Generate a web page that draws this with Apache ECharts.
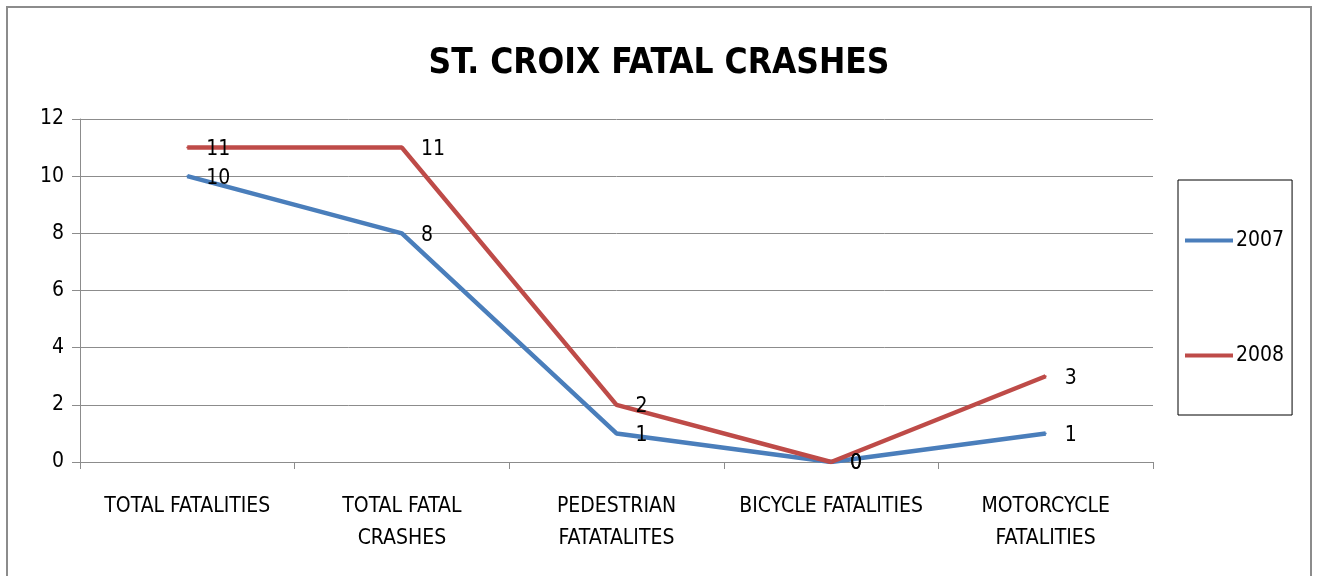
<!DOCTYPE html>
<html>
<head>
<meta charset="utf-8">
<script src="https://cdn.jsdelivr.net/npm/echarts@6/dist/echarts.min.js"></script>
<style>
  html, body { margin: 0; padding: 0; background: #fff; }
  #chart { width: 1318px; height: 576px; }
</style>
</head>
<body>
<div id="chart"></div>
<script>
    "use strict";

    var categorias = ['TOTAL FATALITIES', 'TOTAL FATAL\nCRASHES', 'PEDESTRIAN\nFATATALITES', 'BICYCLE FATALITIES', 'MOTORCYCLE\nFATALITIES'];
    var datos2007 = [10, 8, 1, 0, 1];
    var datos2008 = [11, 11, 2, 0, 3];
    var anios = ['2007', '2008'];

    var fuente = '"DejaVu Sans Condensed", sans-serif';

    var chart = echarts.init(document.getElementById('chart'));
    var etiqueta = { show: true, position: 'right', distance: 18, offset: [0, 2], fontFamily: fuente, fontSize: 21, color: '#000' };
    chart.setOption({
        animation: false,
        color: ['#4a7ebb', '#be4b48'],
        title: {
            text: 'ST. CROIX FATAL CRASHES',
            left: 'center',
            top: 41,
            textStyle: { fontFamily: fuente, fontSize: 35, fontWeight: 'bold', color: '#000' }
        },
        graphic: [{ //marco exterior
            type: 'rect',
            shape: { x: 7, y: 7, width: 1304, height: 620 },
            style: { fill: 'none', stroke: '#8c8c8c', lineWidth: 2 }
        }],
        legend: {
            orient: 'vertical',
            left: 1178,
            top: 180,
            data: anios,
            itemWidth: 48,
            itemHeight: 14,
            itemGap: 94,
            padding: [50, 8, 49, 7],
            borderColor: '#000',
            borderWidth: 1,
            icon: 'path://M0,0 L48,0 L48,4 L0,4 Z',
            textStyle: { fontFamily: fuente, fontSize: 21, color: '#000', padding: [0, 0, 0, -2] }
        },
        grid: { left: 80, right: 165, top: 119, bottom: 114 },
        xAxis: {
            type: 'category',
            data: categorias,
            boundaryGap: true,
            axisLine: { lineStyle: { color: '#8c8c8c', width: 1 } },
            axisTick: { show: true, length: 7, lineStyle: { color: '#8c8c8c' } },
            axisLabel: { fontFamily: fuente, fontSize: 21, color: '#000', margin: 29, lineHeight: 32, interval: 0 }
        },
        yAxis: {
            type: 'value',
            min: 0, max: 12, interval: 2,
            axisLine: { show: true, lineStyle: { color: '#8c8c8c' } },
            axisTick: { show: true, length: 8, lineStyle: { color: '#8c8c8c' } },
            splitLine: { lineStyle: { color: '#8c8c8c', width: 1 } },
            axisLabel: { fontFamily: fuente, fontSize: 21, color: '#000', margin: 16 }
        },
        series: [{
            name: anios[0],
            type: 'line',
            data: datos2007,
            symbol: 'circle',
            symbolSize: 2,
            showSymbol: true,
            lineStyle: { width: 4.5 },
            label: etiqueta
        }, {
            name: anios[1],
            type: 'line',
            data: datos2008,
            symbol: 'circle',
            symbolSize: 2,
            showSymbol: true,
            lineStyle: { width: 4.5 },
            label: etiqueta
        }]
    });
</script>
</body>
</html>
